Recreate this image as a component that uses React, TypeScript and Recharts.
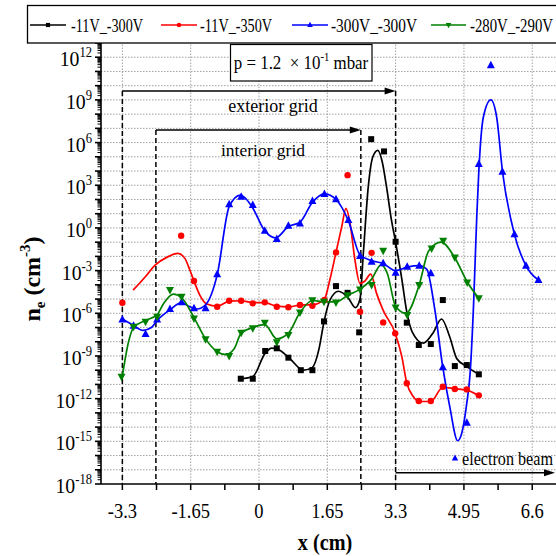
import React from "react";
import { ComposedChart, Line, Scatter, XAxis, YAxis, ReferenceLine } from "recharts";

// all y values are log10(n_e)
const blackMarkX = [-0.44, -0.15, 0.15, 0.43, 0.71, 1.01, 1.29, 1.57, 1.86, 2.14, 2.42, 2.71, 3.02, 3.3, 3.57, 3.86, 4.15, 4.44, 4.73, 5.02, 5.31];
const blackMarkExp = [-10.6, -10.6, -8.65, -8.46, -9.12, -10.0, -10.0, -6.57, -4.09, -4.56, -7.34, 6.24, 5.38, -0.97, -6.66, -8.23, -8.16, -5.07, -9.71, -9.64, -10.29];
const blackFitX = [-0.44, -0.15, 0.15, 0.31, 0.5, 0.75, 1.07, 1.29, 1.45, 1.57, 1.71, 1.92, 2.15, 2.33, 2.44, 2.52, 2.64, 2.75, 2.87, 2.98, 3.08, 3.2, 3.3, 3.45, 3.57, 3.7, 3.97, 4.2, 4.41, 4.6, 4.78, 5.02, 5.31];
const blackFitExp = [-10.6, -10.45, -8.8, -8.45, -8.6, -9.2, -10.0, -9.8, -8.5, -6.6, -5.1, -4.45, -4.9, -5.6, -5.0, -1.8, 2.9, 5.0, 5.45, 4.6, 2.9, 0.55, -1.0, -3.6, -5.9, -7.3, -8.1, -7.4, -6.4, -7.6, -9.2, -9.75, -10.3];

const redMarkX = [-3.3, -1.88, -1.57, -1.01, -0.72, -0.43, -0.15, 0.14, 0.43, 0.71, 0.99, 1.29, 1.58, 1.86, 2.14, 2.44, 2.72, 3.0, 3.29, 3.57, 3.86, 4.15, 4.44, 4.73, 5.02, 5.31];
const redMarkExp = [-5.26, -0.55, -3.73, -5.54, -5.12, -5.12, -5.3, -5.23, -5.54, -5.58, -5.42, -5.47, -5.07, -1.72, 3.71, -5.89, -1.75, -6.64, -7.41, -10.92, -12.17, -12.17, -11.16, -11.32, -11.35, -11.77];
const redFitX = [-3.04, -2.75, -2.51, -2.23, -1.96, -1.79, -1.67, -1.57, -1.43, -1.26, -1.01, -0.72, -0.43, -0.15, 0.14, 0.43, 0.71, 0.99, 1.29, 1.58, 1.71, 1.86, 2.0, 2.1, 2.2, 2.32, 2.44, 2.55, 2.7, 2.84, 3.0, 3.29, 3.45, 3.57, 3.73, 3.86, 4.15, 4.44, 4.73, 5.02, 5.31];
const redFitExp = [-4.37, -3.45, -2.61, -2.07, -1.79, -2.14, -2.96, -3.73, -4.72, -5.35, -5.5, -5.15, -5.12, -5.25, -5.25, -5.5, -5.55, -5.42, -5.4, -5.0, -3.66, -1.72, 0.1, 1.37, 0.3, -2.3, -3.9, -3.75, -3.25, -4.6, -5.8, -7.4, -9.05, -10.9, -11.87, -12.2, -12.2, -11.2, -11.3, -11.4, -11.8];

const blueMarkX = [-3.3, -3.03, -2.74, -2.46, -2.15, -1.87, -1.57, -1.29, -1.01, -0.72, -0.43, -0.15, 0.14, 0.43, 0.71, 0.99, 1.29, 1.58, 1.86, 2.16, 2.44, 2.72, 3.0, 3.3, 3.58, 3.87, 4.15, 4.44, 5.02, 5.31, 5.6, 5.88, 6.17, 6.45, 6.75];
const blueMarkExp = [-6.43, -6.88, -7.46, -6.43, -5.7, -5.23, -5.65, -5.65, -3.26, 1.66, 2.19, 1.61, -0.2, -0.78, 0.15, 0.32, 1.89, 2.38, 2.01, 0.55, -1.98, -2.38, -2.49, -3.15, -2.73, -2.66, -3.19, -9.8, -13.69, 4.49, 11.44, 3.95, -0.45, -2.66, -3.66];
const blueFitX = [-3.3, -3.03, -2.8, -2.6, -2.46, -2.15, -1.87, -1.7, -1.5, -1.29, -1.01, -0.72, -0.45, -0.3, -0.15, 0.14, 0.4, 0.71, 0.99, 1.29, 1.58, 1.86, 2.16, 2.44, 2.72, 3.0, 3.3, 3.58, 3.87, 4.05, 4.25, 4.44, 4.61, 4.8, 4.9, 5.02, 5.1, 5.18, 5.26, 5.31, 5.42, 5.6, 5.74, 5.88, 6.17, 6.45, 6.75];
const blueFitExp = [-6.4, -6.85, -7.2, -7.0, -6.5, -5.75, -5.25, -5.5, -5.7, -5.4, -3.3, 1.5, 2.3, 2.0, 1.4, -0.2, -0.7, 0.1, 0.4, 1.8, 2.4, 2.0, 0.5, -1.9, -2.3, -2.5, -3.0, -2.75, -2.65, -2.9, -5.8, -9.8, -12.6, -14.96, -14.4, -12.3, -10.2, -5.6, 0.78, 4.0, 7.8, 9.0, 7.8, 4.0, -0.45, -2.66, -3.66];

const greenMarkX = [-3.32, -3.03, -2.74, -2.46, -2.15, -1.87, -1.57, -1.29, -1.01, -0.72, -0.43, -0.15, 0.14, 0.43, 0.71, 0.99, 1.29, 1.57, 1.86, 2.14, 2.44, 2.72, 3.0, 3.3, 3.58, 3.87, 4.17, 4.45, 4.73, 5.03, 5.31];
const greenMarkExp = [-10.46, -6.95, -6.59, -6.24, -4.37, -4.84, -6.36, -7.83, -8.7, -9.0, -7.37, -7.06, -6.66, -8.04, -7.53, -5.95, -5.08, -5.19, -5.25, -4.73, -4.32, -4.02, -1.6, -5.6, -6.12, -4.02, -1.44, -0.9, -2.07, -3.83, -4.95];
const greenFitX = [-3.3, -3.15, -3.03, -2.74, -2.46, -2.3, -2.07, -1.87, -1.57, -1.29, -1.01, -0.8, -0.6, -0.43, -0.15, 0.14, 0.43, 0.71, 0.99, 1.29, 1.57, 1.86, 2.14, 2.44, 2.72, 2.95, 3.1, 3.3, 3.55, 3.87, 4.1, 4.4, 4.73, 5.03, 5.31];
const greenFitExp = [-10.4, -8.0, -7.0, -6.5, -6.1, -5.3, -4.65, -4.9, -6.3, -7.8, -8.7, -8.9, -8.5, -7.4, -7.0, -6.8, -7.8, -7.4, -5.95, -5.1, -5.2, -5.2, -4.75, -4.3, -3.6, -2.6, -3.2, -5.5, -6.0, -4.0, -1.6, -1.0, -2.1, -3.8, -4.95];

// axis / annotation values
const xMajorTicks = [-3.3, -1.65, 0, 1.65, 3.3, 4.95, 6.6];
const xMinorTicks = [-2.475, -0.825, 0.825, 2.475, 4.125, 5.775];
const xDomain = [-3.816, 7.174];
const expMin = -18;
const expMax = 13;
const exteriorGridX = [-3.3, 3.3];
const interiorGridX = [-2.49, 2.46];
const exteriorArrowExp = 9.63;
const interiorArrowExp = 6.88;
const beamX = [3.3, 7.15];
const beamExp = -17.21;

const FONT = "'Liberation Serif', 'Times New Roman', serif";

const pts = (xs: number[], es: number[]) => xs.map((x, i) => ({ x, y: Math.pow(10, es[i]) }));

const series = [
  { name: "-11V_-300V", color: "#000000", marker: "square", mx: blackMarkX, me: blackMarkExp, fx: blackFitX, fe: blackFitExp },
  { name: "-11V_-350V", color: "#ff0000", marker: "circle", mx: redMarkX, me: redMarkExp, fx: redFitX, fe: redFitExp },
  { name: "-300V_-300V", color: "#0000ff", marker: "up", mx: blueMarkX, me: blueMarkExp, fx: blueFitX, fe: blueFitExp },
  { name: "-280V_-290V", color: "#008000", marker: "down", mx: greenMarkX, me: greenMarkExp, fx: greenFitX, fe: greenFitExp },
];

const yTicks: number[] = [];
for (let e = expMin; e < expMax; e++) {
  for (let m = 1; m <= 9; m++) yTicks.push(m * Math.pow(10, e));
}
yTicks.push(Math.pow(10, expMax));
const gridExps: number[] = [];
for (let e = expMin + 1; e < expMax; e++) gridExps.push(e);

const drawMarker = (kind: string, color: string, cx: number, cy: number, s = 1) => {
  if (kind === "square") return <rect x={cx - 3 * s} y={cy - 3 * s} width={6 * s} height={6 * s} fill={color} />;
  if (kind === "circle") return <circle cx={cx} cy={cy} r={3.2 * s} fill={color} />;
  if (kind === "up")
    return <polygon points={`${cx},${cy - 4.5 * s} ${cx - 4 * s},${cy + 3 * s} ${cx + 4 * s},${cy + 3 * s}`} fill={color} />;
  return <polygon points={`${cx},${cy + 4.5 * s} ${cx - 4 * s},${cy - 3 * s} ${cx + 4 * s},${cy - 3 * s}`} fill={color} />;
};

const YTick = (props: any) => {
  const { x, y, payload } = props;
  const v = payload.value as number;
  const e = Math.floor(Math.log10(v) + 1e-9);
  const m = Math.round(v / Math.pow(10, e));
  const decade = m === 1;
  const labeled = decade && e % 3 === 0 && e < expMax;
  return (
    <g>
      <line x1={x} x2={x - (decade ? 6 : 3.5)} y1={y} y2={y} stroke="#000" strokeWidth={decade ? 1.6 : 1} />
      {labeled && (
        <g transform={`translate(${x - 9},${y + 9}) scale(0.9,1)`}>
          <text x={0} y={0} textAnchor="end" fontFamily={FONT} fontSize={22} fill="#000">
            10<tspan dy={-9} fontSize={14}>{e}</tspan>
          </text>
        </g>
      )}
    </g>
  );
};

const XTick = (props: any) => {
  const { x, y, payload } = props;
  const v = payload.value as number;
  const major = xMajorTicks.includes(v);
  return (
    <g>
      <line x1={x} x2={x} y1={y} y2={y + 6} stroke="#000" strokeWidth={1.5} />
      {major && (
        <g transform={`translate(${x},${y + 34}) scale(0.88,1)`}>
          <text x={0} y={0} textAnchor="middle" fontFamily={FONT} fontSize={21} fill="#000">
            {String(v)}
          </text>
        </g>
      )}
    </g>
  );
};

const arrowShape = (p: any) => {
  const { x1, y1, x2, y2 } = p;
  return (
    <g>
      <line x1={x1} y1={y1} x2={x2 - 6} y2={y2} stroke="#000" strokeWidth={1.5} />
      <polygon points={`${x2},${y2} ${x2 - 11},${y2 - 3.5} ${x2 - 11},${y2 + 3.5}`} fill="#000" />
    </g>
  );
};

const legendPos = [
  { line: [30, 66], text: 71, w: 72 },
  { line: [161, 197], text: 200, w: 72 },
  { line: [292, 328], text: 331, w: 86 },
  { line: [431, 466], text: 470, w: 83 },
];

export default function App() {
  const top = Math.pow(10, exteriorArrowExp);
  const mid = Math.pow(10, interiorArrowExp);
  const floor = Math.pow(10, expMin);
  return (
    <div style={{ position: "fixed", left: 0, top: 0, width: 556, height: 556, background: "#fff", overflow: "hidden" }}>
      <ComposedChart width={556} height={556} margin={{ top: 43, right: 0, bottom: 32, left: 0 }}>
        <XAxis
          dataKey="x"
          type="number"
          domain={xDomain}
          allowDataOverflow
          ticks={[...xMajorTicks, ...xMinorTicks].sort((a, b) => a - b)}
          interval={0}
          tick={<XTick />}
          tickSize={0}
          tickMargin={0}
          tickLine={false}
          axisLine={{ stroke: "#000", strokeWidth: 1.5 }}
          height={40}
        />
        <YAxis
          dataKey="y"
          type="number"
          scale="log"
          domain={[floor, Math.pow(10, expMax)]}
          allowDataOverflow
          ticks={yTicks}
          interval={0}
          tick={<YTick />}
          tickSize={0}
          tickMargin={0}
          tickLine={false}
          axisLine={{ stroke: "#000", strokeWidth: 1.6 }}
          width={101}
        />
        {gridExps.map((e) => (
          <ReferenceLine key={`gy${e}`} y={Math.pow(10, e)} stroke="#a0a0a0" strokeDasharray="1.5 1.5" strokeWidth={1} />
        ))}
        {xMajorTicks.map((v) => (
          <ReferenceLine key={`gx${v}`} x={v} stroke="#a0a0a0" strokeDasharray="1.5 1.5" strokeWidth={1} />
        ))}
        {exteriorGridX.map((v) => (
          <ReferenceLine key={`ex${v}`} ifOverflow="visible" segment={[{ x: v, y: top }, { x: v, y: floor }]} stroke="#000" strokeWidth={1.5} strokeDasharray="5 3" />
        ))}
        {interiorGridX.map((v) => (
          <ReferenceLine key={`in${v}`} ifOverflow="visible" segment={[{ x: v, y: mid }, { x: v, y: floor }]} stroke="#000" strokeWidth={1.5} strokeDasharray="5 3" />
        ))}
        <ReferenceLine ifOverflow="visible" segment={[{ x: exteriorGridX[0], y: top }, { x: exteriorGridX[1], y: top }]} shape={arrowShape} />
        <ReferenceLine ifOverflow="visible" segment={[{ x: interiorGridX[0], y: mid }, { x: interiorGridX[1], y: mid }]} shape={arrowShape} />
        <ReferenceLine
          ifOverflow="visible"
          segment={[{ x: beamX[0], y: Math.pow(10, beamExp) }, { x: beamX[1], y: Math.pow(10, beamExp) }]}
          shape={arrowShape}
        />
        {series.map((s) => (
          <Line
            key={`l${s.name}`}
            data={pts(s.fx, s.fe)}
            dataKey="y"
            type="monotone"
            stroke={s.color}
            strokeWidth={1.7}
            dot={false}
            activeDot={false}
            isAnimationActive={false}
          />
        ))}
        {series.map((s) => (
          <Scatter
            key={`s${s.name}`}
            data={pts(s.mx, s.me)}
            dataKey="y"
            isAnimationActive={false}
            shape={(p: any) => (p.cx == null ? <g /> : drawMarker(s.marker, s.color, p.cx, p.cy))}
          />
        ))}
      </ComposedChart>

      <svg width={556} height={556} style={{ position: "absolute", left: 0, top: 0, pointerEvents: "none" }}>
        {/* legend */}
        <rect x={27.5} y={5.5} width={540} height={37.5} fill="#fff" stroke="#000" strokeWidth={1.3} />
        {series.map((s, i) => {
          const lp = legendPos[i];
          return (
            <g key={`lg${s.name}`}>
              <line x1={lp.line[0]} x2={lp.line[1]} y1={25} y2={25} stroke={s.color} strokeWidth={1.7} />
              {drawMarker(s.marker, s.color, (lp.line[0] + lp.line[1]) / 2, 25, 0.7)}
              <text x={lp.text} y={32} fontFamily={FONT} fontSize={19} textLength={lp.w} lengthAdjust="spacingAndGlyphs" fill="#000">
                {s.name}
              </text>
            </g>
          );
        })}

        {/* pressure box */}
        <rect x={230.5} y={44.5} width={141.5} height={36.5} fill="#fff" stroke="#000" strokeWidth={1.2} />
        <g transform="translate(301,69) scale(0.89,1)">
          <text x={0} y={0} textAnchor="middle" fontFamily={FONT} fontSize={19} fill="#000" style={{ whiteSpace: "pre" }}>
            p = 1.2  × 10<tspan dy={-8} fontSize={12}>-1</tspan>
            <tspan dy={8}> mbar</tspan>
          </text>
        </g>

        <text x={273} y={112} textAnchor="middle" fontFamily={FONT} fontSize={18} fill="#000">exterior grid</text>
        <text x={263} y={156} textAnchor="middle" fontFamily={FONT} fontSize={17.5} fill="#000">interior grid</text>

        {drawMarker("up", "#0000ff", 455, 458, 0.8)}
        <text x={462} y={465} fontFamily={FONT} fontSize={19} textLength={91} lengthAdjust="spacingAndGlyphs" fill="#000">
          electron beam
        </text>

        {/* axis titles */}
        <g transform="translate(40,279) rotate(-90)">
          <text x={0} y={0} textAnchor="middle" fontFamily={FONT} fontSize={24} fontWeight="bold" fill="#000">
            n<tspan dy={5} fontSize={15}>e</tspan>
            <tspan dy={-5}> (cm</tspan>
            <tspan dy={-10} fontSize={15}>-3</tspan>
            <tspan dy={10}>)</tspan>
          </text>
        </g>
        <g transform="translate(325,550) scale(0.88,1)">
          <text x={0} y={0} textAnchor="middle" fontFamily={FONT} fontSize={23} fontWeight="bold" fill="#000">
            x (cm)
          </text>
        </g>
      </svg>
    </div>
  );
}
